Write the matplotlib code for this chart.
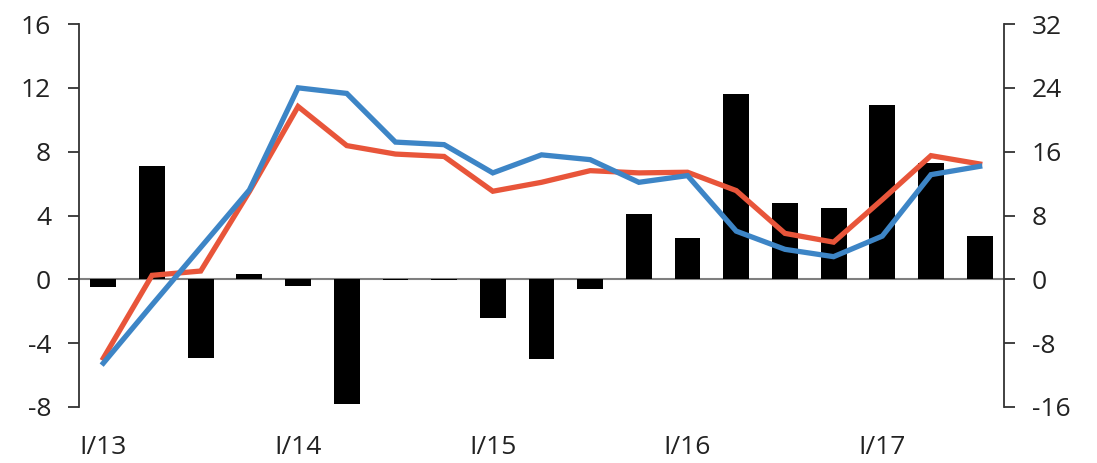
import matplotlib
matplotlib.use("Agg")
import matplotlib.pyplot as plt
import numpy as np

quarters = ["I/13", "II/13", "III/13", "IV/13", "I/14", "II/14", "III/14", "IV/14",
            "I/15", "II/15", "III/15", "IV/15", "I/16", "II/16", "III/16", "IV/16",
            "I/17", "II/17", "III/17"]
bars = [-0.5, 7.1, -4.95, 0.35, -0.4, -7.8, -0.05, -0.05, -2.45, -5.0, -0.63, 4.1,
        2.6, 11.6, 4.8, 4.45, 10.9, 7.3, 2.7]
blue = [-5.25, -1.6, 2.0, 5.6, 12.0, 11.65, 8.6, 8.44, 6.67, 7.8, 7.5, 6.08,
        6.5, 3.02, 1.88, 1.42, 2.71, 6.56, 7.08]
red = [-4.94, 0.25, 0.52, 5.5, 10.83, 8.38, 7.85, 7.7, 5.52, 6.08, 6.81, 6.67,
       6.71, 5.56, 2.88, 2.33, 5.0, 7.75, 7.23]
left_ticks = [-8, -4, 0, 4, 8, 12, 16]
right_ticks = [-16, -8, 0, 8, 16, 24, 32]

plt.rcParams['font.family'] = ['Open Sans', 'DejaVu Sans']
text_color = "#222222"
spine_color = "#333333"

fig = plt.figure(figsize=(10.97, 4.63), dpi=100)
ax = fig.add_axes([79/1097, 1-407/463, (1004-79)/1097, (407-24)/463])
x = np.arange(len(quarters))

ax.axhline(0, color="#7f7f7f", lw=1.5, zorder=1)
ax.bar(x, bars, width=0.53, color="black", zorder=2)
ax.plot(x, red, color="#e8553a", lw=3.8, zorder=3, solid_joinstyle="miter")
ax.plot(x, blue, color="#3d85c6", lw=3.8, zorder=4, solid_joinstyle="miter")

ax.set_xlim(-0.5, 18.5)
ax.set_ylim(-8, 16)
ax.set_yticks(left_ticks)
ax.set_yticklabels([str(t) for t in left_ticks])
ax.set_xticks(x[::4])
ax.set_xticklabels(quarters[::4])
ax.tick_params(axis="x", length=0, pad=20, labelsize=19, labelcolor=text_color)
ax.tick_params(axis="y", length=8, width=1.3, color=spine_color, pad=12,
               labelsize=19, labelcolor=text_color)
for s in ["top", "bottom", "right"]:
    ax.spines[s].set_visible(False)
ax.spines["left"].set_color(spine_color)
ax.spines["left"].set_linewidth(1.3)

ax2 = ax.twinx()
ax2.set_ylim(-16, 32)
ax2.set_yticks(right_ticks)
ax2.set_yticklabels([str(t) for t in right_ticks])
ax2.tick_params(axis="y", length=8, width=1.3, color=spine_color, pad=12,
                labelsize=19, labelcolor=text_color)
for s in ["top", "bottom", "left"]:
    ax2.spines[s].set_visible(False)
ax2.spines["right"].set_color(spine_color)
ax2.spines["right"].set_linewidth(1.3)

fig.savefig("out.png", dpi=100)
